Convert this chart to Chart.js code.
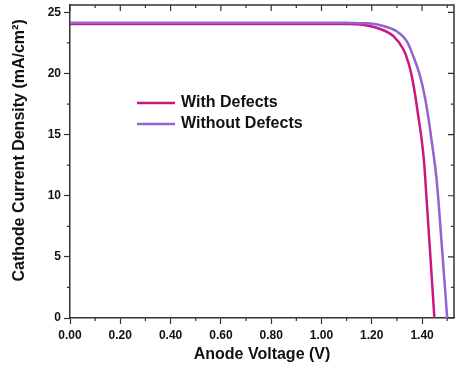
<!DOCTYPE html>
<html>
<head>
<meta charset="utf-8">
<script src="https://cdn.jsdelivr.net/npm/chart.js@4.4.0/dist/chart.umd.min.js"></script>
<style>
  html, body { margin: 0; padding: 0; background: #fff; }
  #wrap { width: 457px; height: 374px; }
</style>
</head>
<body>
<div id="wrap"><canvas id="jv"></canvas></div>
<script>
// J-V data
const voltageWith = [0, 0.5, 1.0, 1.1, 1.153, 1.233, 1.286, 1.326, 1.346, 1.359, 1.372, 1.385, 1.399, 1.409, 1.419, 1.432, 1.449];
const currentWith = [24.05, 24.05, 24.05, 24.04, 24.0, 23.64, 23.05, 21.96, 20.87, 19.79, 18.3, 16.5, 14.5, 12.5, 9.4, 5.4, 0];

const voltageWithout = [0, 0.5, 1.0, 1.1, 1.18, 1.233, 1.299, 1.339, 1.365, 1.392, 1.412, 1.425, 1.438, 1.458, 1.479, 1.5];
const currentWithout = [24.15, 24.15, 24.15, 24.14, 24.1, 23.95, 23.45, 22.64, 21.42, 19.79, 18.0, 16.4, 14.5, 11.3, 5.8, 0];

const seriesNames = ['With Defects', 'Without Defects'];
const seriesColors = ['#c9187f', '#9462d2'];

const xTicks = [0, 0.2, 0.4, 0.6, 0.8, 1.0, 1.2, 1.4];
const xMinor = [0.1, 0.3, 0.5, 0.7, 0.9, 1.1, 1.3, 1.5];
const yTicks = [0, 5, 10, 15, 20, 25];
const yMinor = [2.5, 7.5, 12.5, 17.5, 22.5];

const axisColor = '#333';
const font = 'Liberation Sans, Arial, sans-serif';

function toPoints(xs, ys) {
    return xs.map((x, i) => ({ x: x, y: ys[i] }));
}

// frame on top/right, minor ticks, and the in-plot legend
const framePlugin = {
    id: 'frame',
    afterDraw(chart) {
        const ctx = chart.ctx;
        const a = chart.chartArea;
        const xs = chart.scales.x;
        const ys = chart.scales.y;
        ctx.save();
        ctx.strokeStyle = axisColor;
        ctx.lineWidth = 1.5;
        ctx.beginPath();
        ctx.moveTo(a.left, a.top);
        ctx.lineTo(a.right, a.top);
        ctx.lineTo(a.right, a.bottom);
        ctx.stroke();

        ctx.lineWidth = 1.2;
        ctx.beginPath();
        xTicks.forEach(v => {
            const p = xs.getPixelForValue(v);
            ctx.moveTo(p, a.top); ctx.lineTo(p, a.top + 6);
        });
        xMinor.forEach(v => {
            const p = xs.getPixelForValue(v);
            if (p > a.right) return;
            ctx.moveTo(p, a.bottom); ctx.lineTo(p, a.bottom + 3);
            ctx.moveTo(p, a.top); ctx.lineTo(p, a.top + 3);
        });
        yTicks.forEach(v => {
            const p = ys.getPixelForValue(v);
            ctx.moveTo(a.right, p); ctx.lineTo(a.right - 6, p);
        });
        yMinor.forEach(v => {
            const p = ys.getPixelForValue(v);
            ctx.moveTo(a.left, p); ctx.lineTo(a.left - 3, p);
            ctx.moveTo(a.right, p); ctx.lineTo(a.right - 3, p);
        });
        ctx.stroke();

        // legend
        ctx.font = 'bold 16px ' + font;
        ctx.textBaseline = 'middle';
        seriesNames.forEach((name, i) => {
            const y = 103 + i * 21;
            ctx.strokeStyle = seriesColors[i];
            ctx.lineWidth = 2.5;
            ctx.beginPath();
            ctx.moveTo(137, y);
            ctx.lineTo(175, y);
            ctx.stroke();
            ctx.fillStyle = '#111';
            ctx.fillText(name, 181, y);
        });
        ctx.restore();
    }
};

new Chart(document.getElementById('jv'), {
    type: 'line',
    data: {
        datasets: [
            {
                label: seriesNames[1],
                data: toPoints(voltageWithout, currentWithout),
                borderColor: seriesColors[1],
                borderWidth: 2.5,
                pointRadius: 0,
                cubicInterpolationMode: 'monotone'
            },
            {
                label: seriesNames[0],
                data: toPoints(voltageWith, currentWith),
                borderColor: seriesColors[0],
                borderWidth: 2.5,
                pointRadius: 0,
                cubicInterpolationMode: 'monotone'
            }
        ]
    },
    options: {
        responsive: true,
        maintainAspectRatio: false,
        animation: false,
        layout: { padding: { top: 5, right: 3 } },
        plugins: {
            legend: { display: false },
            tooltip: { enabled: false }
        },
        scales: {
            x: {
                type: 'linear',
                min: 0,
                max: 1.527,
                afterBuildTicks: s => { s.ticks = xTicks.map(v => ({ value: v })); },
                afterFit: s => { s.height = 56; },
                grid: { drawOnChartArea: false, tickLength: 6, tickColor: axisColor, tickWidth: 1.2 },
                border: { color: axisColor, width: 1.5 },
                ticks: {
                    color: '#111',
                    padding: 4,
                    maxRotation: 0,
                    font: { family: font, size: 12, weight: 'bold' },
                    callback: v => v.toFixed(2)
                },
                title: {
                    display: true,
                    text: 'Anode Voltage (V)',
                    color: '#111',
                    padding: 10,
                    font: { family: font, size: 16, weight: 'bold' }
                }
            },
            y: {
                min: 0,
                max: 25.6,
                afterBuildTicks: s => { s.ticks = yTicks.map(v => ({ value: v })); },
                afterFit: s => { s.width = 70; s.paddingTop = 0; },
                grid: { drawOnChartArea: false, tickLength: 6, tickColor: axisColor, tickWidth: 1.2 },
                border: { color: axisColor, width: 1.5 },
                ticks: {
                    color: '#111',
                    padding: 3,
                    font: { family: font, size: 12, weight: 'bold' }
                },
                title: {
                    display: true,
                    text: '     Cathode Current Density (mA/cm²)',
                    color: '#111',
                    padding: 10,
                    font: { family: font, size: 16, weight: 'bold' }
                }
            }
        }
    },
    plugins: [framePlugin]
});
</script>
</body>
</html>
